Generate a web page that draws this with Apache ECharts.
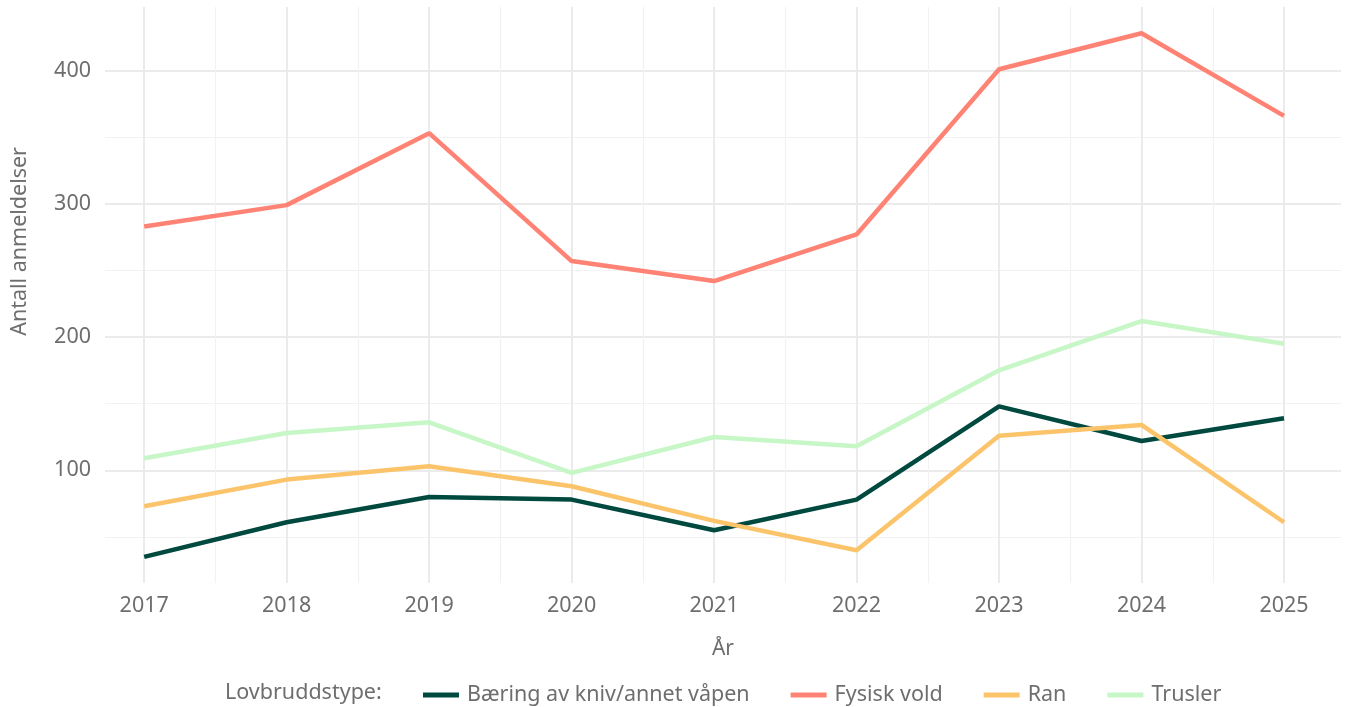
<!DOCTYPE html>
<html>
<head>
<meta charset="utf-8">
<script src="https://cdn.jsdelivr.net/npm/echarts@6/dist/echarts.min.js"></script>
<style>
    html, body { margin: 0; padding: 0; background: #fff; }
    #lineChart { width: 1346px; height: 707px; }
</style>
</head>
<body>
<div id="lineChart"></div>
<script>
    // data
    const years = [2017, 2018, 2019, 2020, 2021, 2022, 2023, 2024, 2025];
    const baering = [35, 61, 80, 78, 55, 78, 148, 122, 139];
    const fysiskVold = [283, 299, 353, 257, 242, 277, 401, 428, 366];
    const ran = [73, 93, 103, 88, 62, 40, 126, 134, 61];
    const trusler = [109, 128, 136, 98, 125, 118, 175, 212, 195];

    const seriesNames = ['Bæring av kniv/annet våpen', 'Fysisk vold', 'Ran', 'Trusler'];
    const yTicks = [100, 200, 300, 400];
    const yMinorTicks = [50, 150, 250, 350];
    const xMinorTicks = [2017.5, 2018.5, 2019.5, 2020.5, 2021.5, 2022.5, 2023.5, 2024.5];

    const colors = ['#00493e', '#ff8374', '#fbc46b', '#c7f6c7'];
    const font = '"Noto Sans", sans-serif';
    const textColor = '#6e6e6e';

    const xMin = 2016.725, xMax = 2025.4;
    const yMin = 15.4, yMax = 447.7;

    function pairs(vals) {
        return vals.map((v, i) => [years[i], v]);
    }

    const chart = echarts.init(document.getElementById('lineChart'));

    const option = {
        color: colors,
        animation: false,
        textStyle: { fontFamily: font },
        grid: { left: 105, right: 5, top: 7, bottom: 124 },
        title: {
            text: 'Lovbruddstype:',
            left: 220,
            top: 677,
            textStyle: { fontFamily: font, fontSize: 21.5, fontWeight: 'normal', color: textColor }
        },
        legend: {
            data: seriesNames,
            left: 418,
            top: 679,
            icon: 'rect',
            itemWidth: 36,
            itemHeight: 5,
            itemGap: 41,
            textStyle: { fontFamily: font, fontSize: 21.5, color: textColor, padding: [0, 0, 0, 3] }
        },
        // y axis title, rotated to read bottom-up
        graphic: [{
            type: 'text',
            left: 9,
            top: 147,
            rotation: Math.PI / 2,
            style: {
                text: 'Antall anmeldelser',
                fontFamily: font,
                fontSize: 21.5,
                fill: textColor
            }
        }],
        xAxis: [{
            type: 'value',
            min: xMin,
            max: xMax,
            name: 'År',
            nameLocation: 'middle',
            nameGap: 56,
            nameTextStyle: { fontFamily: font, fontSize: 21, color: textColor },
            axisLine: { show: false },
            axisTick: { show: false, customValues: years },
            axisLabel: {
                customValues: years,
                margin: 12,
                fontSize: 21.5,
                color: textColor,
                formatter: v => String(v)
            },
            splitLine: { show: true, lineStyle: { color: '#ebebeb', width: 2 } }
        }, {
            // minor vertical grid
            type: 'value',
            min: xMin,
            max: xMax,
            position: 'top',
            axisLine: { show: false },
            axisTick: { show: false, customValues: xMinorTicks },
            axisLabel: { show: false, customValues: xMinorTicks },
            splitLine: { show: true, lineStyle: { color: '#f2f2f2', width: 1.2 } }
        }],
        yAxis: [{
            type: 'value',
            min: yMin,
            max: yMax,
            axisLine: { show: false },
            axisTick: { show: false, customValues: yTicks },
            axisLabel: {
                customValues: yTicks,
                margin: 14,
                fontSize: 21.5,
                color: textColor
            },
            splitLine: { show: true, lineStyle: { color: '#ebebeb', width: 2 } }
        }, {
            // minor horizontal grid
            type: 'value',
            min: yMin,
            max: yMax,
            position: 'right',
            axisLine: { show: false },
            axisTick: { show: false, customValues: yMinorTicks },
            axisLabel: { show: false, customValues: yMinorTicks },
            splitLine: { show: true, lineStyle: { color: '#f2f2f2', width: 1.2 } }
        }],
        series: [
            { name: seriesNames[0], data: pairs(baering) },
            { name: seriesNames[1], data: pairs(fysiskVold) },
            { name: seriesNames[2], data: pairs(ran) },
            { name: seriesNames[3], data: pairs(trusler) }
        ].map(s => Object.assign({
            type: 'line',
            xAxisIndex: 0,
            yAxisIndex: 0,
            symbol: 'none',
            lineStyle: { width: 4.5 },
            emphasis: { disabled: true }
        }, s))
    };

    chart.setOption(option);
</script>
</body>
</html>
